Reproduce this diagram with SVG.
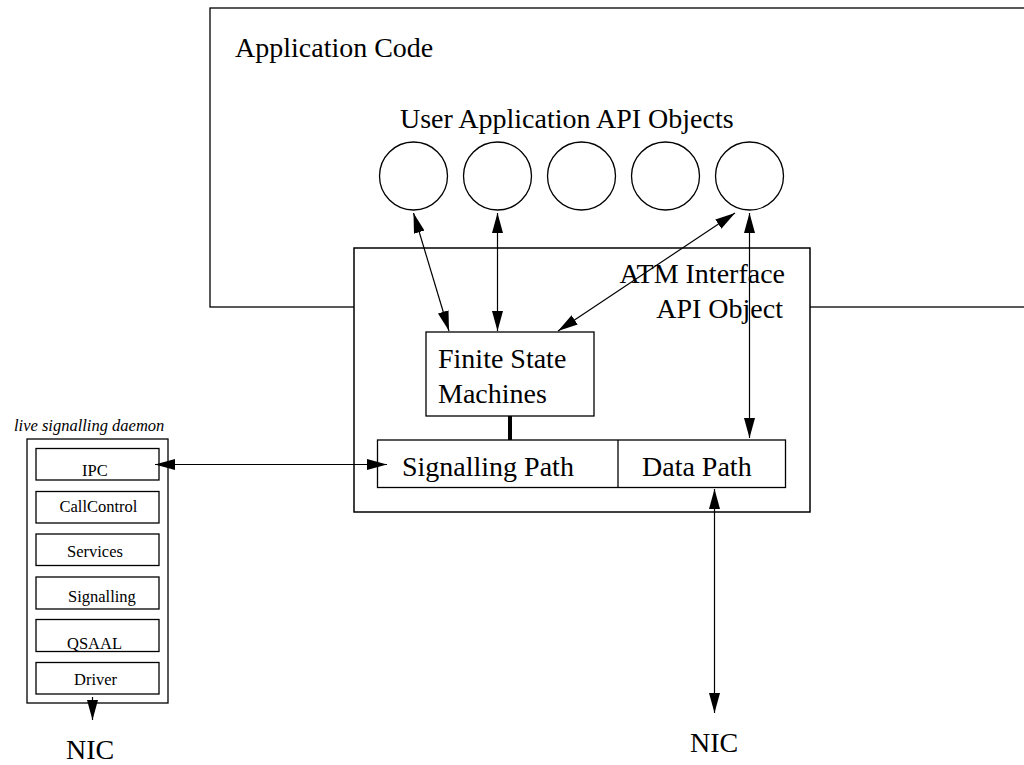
<svg xmlns="http://www.w3.org/2000/svg" width="1024" height="765" viewBox="0 0 1024 765">
<style>
.box{fill:#fff;stroke:#000;stroke-width:1.3}
.big{font-family:"Liberation Serif","Times New Roman",serif;font-size:28px;fill:#000}
.sm{font-family:"Liberation Serif","Times New Roman",serif;font-size:16.5px;fill:#000}
.ln{stroke:#000;stroke-width:1.2;fill:none}
</style>
<defs>
<marker id="ah" markerUnits="userSpaceOnUse" markerWidth="20" markerHeight="11" refX="20" refY="5.5" orient="auto-start-reverse" viewBox="0 0 20 11">
<path d="M0,0 L20,5.5 L0,11 z" fill="#000"/>
</marker>
</defs>
<rect width="1024" height="765" fill="#fff"/>
<g id="app-code">
<rect class="box" x="210" y="8" width="830" height="299"/>
<text class="big" x="235" y="57">Application Code</text>
<text class="big" x="400" y="128">User Application API Objects</text>
</g>
<g id="api-objects">
<circle class="box" cx="413.5" cy="176" r="34"/>
<circle class="box" cx="497.5" cy="176" r="34"/>
<circle class="box" cx="581.5" cy="176" r="34"/>
<circle class="box" cx="665.5" cy="176" r="34"/>
<circle class="box" cx="749.5" cy="176" r="34"/>
</g>
<g id="atm-interface">
<rect class="box" x="354" y="248" width="456" height="264" style="stroke-width:1.5"/>
<text class="big" x="785" y="283" text-anchor="end">ATM Interface</text>
<text class="big" x="783" y="318" text-anchor="end">API Object</text>
</g>
<g id="fsm">
<rect class="box" x="426" y="332" width="168" height="84"/>
<text class="big" x="438" y="368">Finite State</text>
<text class="big" x="438" y="403">Machines</text>
</g>
<g id="paths">
<rect class="box" x="377.5" y="440" width="408" height="47.5"/>
<line class="ln" x1="618" y1="440" x2="618" y2="487.5" style="stroke-width:1.3"/>
<text class="big" x="402" y="476">Signalling Path</text>
<text class="big" x="642" y="476">Data Path</text>
</g>
<g id="daemon">
<text class="sm" x="14" y="431" font-style="italic">live signalling daemon</text>
<rect class="box" x="27" y="439" width="141" height="264"/>
<rect class="box" x="36" y="448.5" width="123" height="31.5"/>
<text class="sm" x="82" y="476">IPC</text>
<rect class="box" x="36" y="491.5" width="123" height="31.5"/>
<text class="sm" x="59.5" y="512">CallControl</text>
<rect class="box" x="36" y="534" width="123" height="31.5"/>
<text class="sm" x="67" y="557">Services</text>
<rect class="box" x="36" y="577" width="123" height="32"/>
<text class="sm" x="68" y="602">Signalling</text>
<rect class="box" x="36" y="619.5" width="123" height="32"/>
<text class="sm" x="67" y="648.5">QSAAL</text>
<rect class="box" x="36" y="662.5" width="123" height="31.5"/>
<text class="sm" x="74" y="685">Driver</text>
</g>
<g id="nic-left">
<text class="big" x="66" y="759">NIC</text>
</g>
<g id="nic-right">
<text class="big" x="690" y="752">NIC</text>
</g>
<g id="connectors">
<line class="ln" x1="413.5" y1="213" x2="449" y2="331" marker-start="url(#ah)" marker-end="url(#ah)"/>
<line class="ln" x1="497.5" y1="213" x2="497.5" y2="331" marker-start="url(#ah)" marker-end="url(#ah)"/>
<line class="ln" x1="735" y1="213" x2="558" y2="331" marker-start="url(#ah)" marker-end="url(#ah)"/>
<line class="ln" x1="749.5" y1="213" x2="749.5" y2="438" marker-start="url(#ah)" marker-end="url(#ah)"/>
<line class="ln" x1="714.5" y1="489" x2="714.5" y2="713" marker-start="url(#ah)" marker-end="url(#ah)"/>
<line class="ln" x1="155" y1="464.5" x2="387" y2="464.5" marker-start="url(#ah)" marker-end="url(#ah)"/>
<line class="ln" x1="92.5" y1="697" x2="92.5" y2="720" marker-end="url(#ah)"/>
<line x1="510" y1="416" x2="510" y2="440" stroke="#000" stroke-width="4"/>
</g>
</svg>
